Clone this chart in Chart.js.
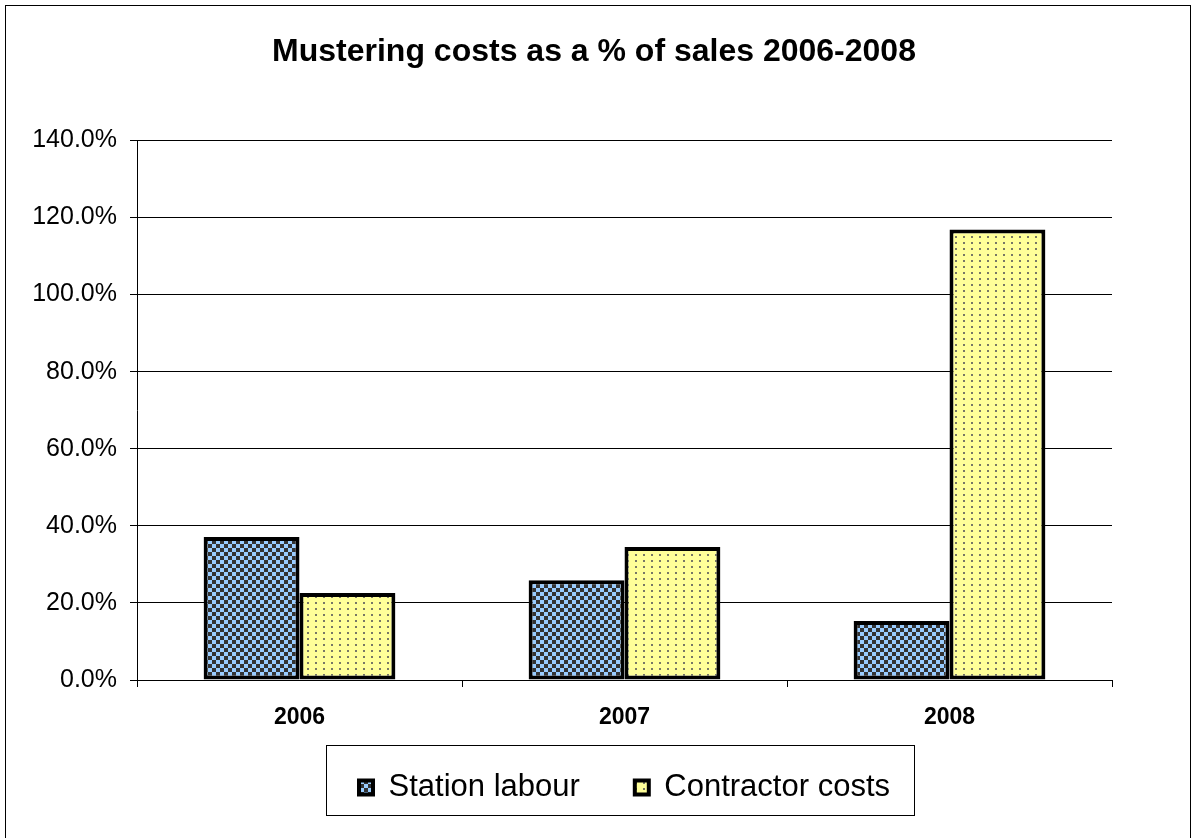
<!DOCTYPE html>
<html>
<head>
<meta charset="utf-8">
<script src="https://cdn.jsdelivr.net/npm/chart.js@4"></script>
<style>
  body { margin: 0; background: #fff; }
  #wrap { width: 1196px; height: 838px; }
</style>
</head>
<body>
<div id="wrap"><canvas id="musterChart" width="1196" height="838"></canvas></div>
<script>
let years = ['2006', '2007', '2008'];
let stationLabour = [37.1, 25.9, 15.3];
let contractorCosts = [22.6, 34.5, 116.9];
let yTicks = [0, 20, 40, 60, 80, 100, 120, 140];

// fill patterns like the old excel chart
function checkerPattern() {
    let c = document.createElement('canvas');
    c.width = 8; c.height = 8;
    let g = c.getContext('2d');
    g.fillStyle = '#99ccff';
    g.fillRect(0, 0, 8, 8);
    g.fillStyle = '#333333';
    g.fillRect(0, 0, 4, 4);
    g.fillRect(4, 4, 4, 4);
    return g.createPattern(c, 'repeat');
}

function dotPattern() {
    let c = document.createElement('canvas');
    c.width = 8; c.height = 6;
    let g = c.getContext('2d');
    g.fillStyle = '#ffff99';
    g.fillRect(0, 0, 8, 6);
    g.fillStyle = '#777766';
    g.fillRect(3, 2, 2, 2);
    return g.createPattern(c, 'repeat');
}

let frame = {
    id: 'frame',
    afterLayout(chart) {
        // excel centres the title a bit right, and the legend sits higher
        chart.titleBlock.left += 70;
        chart.legend.top -= 15;
        chart.legend.bottom -= 15;
    },
    afterDraw(chart) {
        let g = chart.ctx;
        g.save();
        g.strokeStyle = '#000';
        g.lineWidth = 1;
        g.strokeRect(5.5, 5.5, 1185, 840);
        // box round the legend
        let boxes = chart.legend.legendHitBoxes;
        if (boxes && boxes.length) {
            let l = boxes[0].left - 33;
            let last = boxes[boxes.length - 1];
            let r = last.left + last.width + 24;
            let t = boxes[0].top - 27;
            let b = boxes[0].top + 43;
            g.strokeRect(Math.round(l) + 0.5, Math.round(t) + 0.5, Math.round(r - l), Math.round(b - t));
        }
        g.restore();
    }
};

Chart.defaults.font.family = '"Liberation Sans", Arial, sans-serif';
Chart.defaults.color = '#000';

let musterChart = new Chart(document.getElementById('musterChart'), {
    type: 'bar',
    data: {
        labels: years,
        datasets: [
            {
                label: 'Station labour',
                data: stationLabour,
                backgroundColor: checkerPattern(),
                borderColor: '#000',
                borderWidth: 4,
                borderSkipped: false,
                categoryPercentage: 0.59,
                barPercentage: 1
            },
            {
                label: 'Contractor costs',
                data: contractorCosts,
                backgroundColor: dotPattern(),
                borderColor: '#000',
                borderWidth: 4,
                borderSkipped: false,
                categoryPercentage: 0.59,
                barPercentage: 1
            }
        ]
    },
    options: {
        responsive: false,
        animation: false,
        layout: { padding: { left: 6, right: 84, top: 33, bottom: 10 } },
        plugins: {
            title: {
                display: true,
                text: 'Mustering costs as a % of sales 2006-2008',
                font: { size: 32, weight: 'bold' },
                padding: { top: 0, bottom: 69 }
            },
            legend: {
                position: 'bottom',
                fullSize: false,
                labels: {
                    font: { size: 31 },
                    boxWidth: 14,
                    boxHeight: 14,
                    padding: 55,
                    color: '#000'
                }
            },
            tooltip: { enabled: false }
        },
        scales: {
            x: {
                grid: { drawOnChartArea: false, color: '#000', tickLength: 7, offset: true },
                border: { color: '#000', width: 1 },
                ticks: { font: { size: 23, weight: 'bold' }, padding: 17 },
                afterFit(scale) { scale.height = 52; }
            },
            y: {
                min: 0,
                max: 140,
                afterBuildTicks(scale) { scale.ticks = yTicks.map(v => ({ value: v })); },
                grid: { color: '#000', tickLength: 7 },
                border: { color: '#000', width: 1 },
                ticks: {
                    font: { size: 25 },
                    padding: 13,
                    callback: v => v.toFixed(1) + '%'
                },
                afterFit(scale) { scale.width = 131; }
            }
        }
    },
    plugins: [frame]
});
</script>
</body>
</html>
